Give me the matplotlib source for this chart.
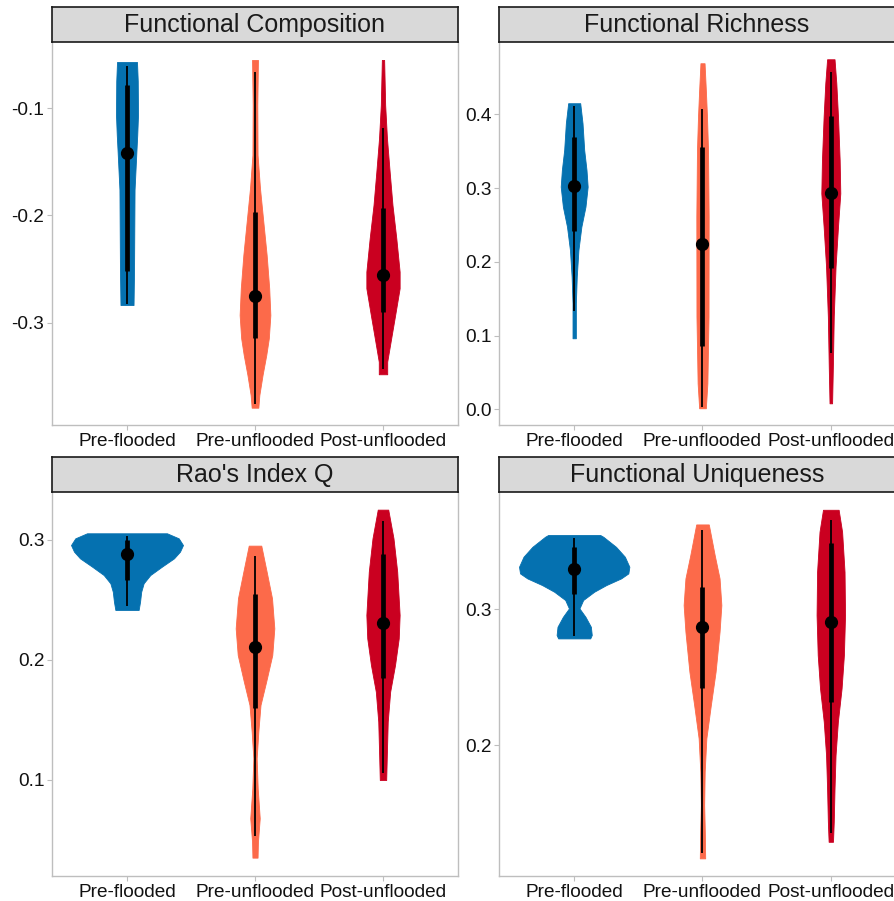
import matplotlib
matplotlib.use("Agg")
import matplotlib.pyplot as plt
import numpy as np

plt.rcParams['font.family'] = ['Liberation Sans', 'DejaVu Sans']

groups = ['Pre-flooded', 'Pre-unflooded', 'Post-unflooded']
colors = ['#0571B0', '#FC6A4A', '#CA0020']

# violin outlines: (value, half width in category units)
fc_pre_flooded = [(-0.0572, 0.078), (-0.075, 0.084), (-0.1065, 0.086), (-0.125, 0.080),
                  (-0.139, 0.074), (-0.176, 0.059), (-0.251, 0.055), (-0.2833, 0.051)]
fc_pre_unflooded = [(-0.0553, 0.023), (-0.0972, 0.018), (-0.1437, 0.020), (-0.1747, 0.039),
                    (-0.2058, 0.065), (-0.2367, 0.091), (-0.2677, 0.111), (-0.2926, 0.120),
                    (-0.3142, 0.108), (-0.3298, 0.088), (-0.3484, 0.059), (-0.367, 0.034),
                    (-0.3788, 0.026)]
fc_post_unflooded = [(-0.0553, 0.009), (-0.0972, 0.017), (-0.1282, 0.031), (-0.1593, 0.052),
                     (-0.1902, 0.074), (-0.2212, 0.104), (-0.2523, 0.130), (-0.2677, 0.130),
                     (-0.2926, 0.095), (-0.3142, 0.064), (-0.336, 0.033), (-0.3477, 0.033)]

fr_pre_flooded = [(0.415, 0.047), (0.3878, 0.065), (0.3516, 0.078), (0.3245, 0.096),
                  (0.3018, 0.105), (0.2747, 0.088), (0.2476, 0.056), (0.216, 0.033),
                  (0.1798, 0.020), (0.1437, 0.013), (0.0963, 0.013)]
fr_pre_unflooded = [(0.4692, 0.016), (0.433, 0.026), (0.3968, 0.035), (0.3516, 0.043),
                    (0.2612, 0.048), (0.1256, 0.047), (0.0353, 0.038), (0.0014, 0.026)]
fr_post_unflooded = [(0.4746, 0.029), (0.442, 0.043), (0.3968, 0.056), (0.338, 0.069),
                     (0.2929, 0.074), (0.2476, 0.056), (0.1934, 0.037), (0.1256, 0.023),
                     (0.0578, 0.016), (0.0081, 0.010)]

rao_pre_flooded = [(0.3056, 0.3125), (0.3014, 0.404), (0.2958, 0.4375), (0.2903, 0.414),
                   (0.2847, 0.367), (0.2778, 0.273), (0.2708, 0.182), (0.2639, 0.130),
                   (0.2569, 0.111), (0.2486, 0.102), (0.2417, 0.091)]
rao_pre_unflooded = [(0.2953, 0.049), (0.2736, 0.091), (0.2514, 0.133), (0.2264, 0.151),
                     (0.2042, 0.135), (0.1819, 0.087), (0.1625, 0.043), (0.1403, 0.026),
                     (0.1181, 0.013), (0.0931, 0.021), (0.0681, 0.037), (0.0486, 0.023),
                     (0.0353, 0.020)]
rao_post_unflooded = [(0.3253, 0.041), (0.3014, 0.082), (0.2736, 0.111), (0.2375, 0.130),
                      (0.2181, 0.123), (0.1958, 0.094), (0.1736, 0.056), (0.1486, 0.037),
                      (0.1208, 0.030), (0.1, 0.025)]

fu_pre_flooded = [(0.3548, 0.203), (0.3535, 0.227), (0.3461, 0.326), (0.3388, 0.395),
                  (0.3314, 0.430), (0.3265, 0.422), (0.3228, 0.365), (0.3179, 0.250),
                  (0.313, 0.156), (0.3069, 0.070), (0.3007, 0.041), (0.2945, 0.088),
                  (0.2872, 0.130), (0.2811, 0.137), (0.2786, 0.125)]
fu_pre_unflooded = [(0.3626, 0.049), (0.34, 0.095), (0.3228, 0.133), (0.3032, 0.147),
                    (0.2835, 0.133), (0.254, 0.102), (0.2295, 0.065), (0.2049, 0.030),
                    (0.1803, 0.017), (0.1558, 0.013), (0.1361, 0.018), (0.1165, 0.021)]
fu_post_unflooded = [(0.3734, 0.061), (0.3572, 0.088), (0.3277, 0.107), (0.2958, 0.111),
                     (0.2663, 0.102), (0.2418, 0.084), (0.2172, 0.055), (0.1926, 0.037),
                     (0.1681, 0.029), (0.1435, 0.023), (0.1287, 0.017)]

# point + intervals (median, thick interval, thin interval)
fc_median = [-0.142, -0.275, -0.255]
fc_thick = [(-0.0786, -0.2516), (-0.1967, -0.314), (-0.193, -0.29)]
fc_thin = [(-0.061, -0.2823), (-0.0665, -0.3753), (-0.1186, -0.3428)]

fr_median = [0.3028, 0.2241, 0.2937]
fr_thick = [(0.3697, 0.2422), (0.356, 0.0861), (0.3977, 0.1912)]
fr_thin = [(0.4113, 0.1339), (0.4076, 0.0035), (0.4578, 0.0770)]

rao_median = [0.2881, 0.2111, 0.2311]
rao_thick = [(0.3, 0.2667), (0.2547, 0.1603), (0.2881, 0.1853)]
rao_thin = [(0.3033, 0.245), (0.2867, 0.0533), (0.3161, 0.1056)]

fu_median = [0.3295, 0.2872, 0.2909]
fu_thick = [(0.3457, 0.3113), (0.3167, 0.2418), (0.3486, 0.2315)]
fu_thin = [(0.3523, 0.2803), (0.3584, 0.1202), (0.3658, 0.1354)]

panels = [
    ('Functional Composition', [fc_pre_flooded, fc_pre_unflooded, fc_post_unflooded],
     fc_median, fc_thick, fc_thin, (-0.3949, -0.0386), [-0.3, -0.2, -0.1]),
    ('Functional Richness', [fr_pre_flooded, fr_pre_unflooded, fr_post_unflooded],
     fr_median, fr_thick, fr_thin, (-0.0213, 0.498), [0.0, 0.1, 0.2, 0.3, 0.4]),
    ("Rao's Index Q", [rao_pre_flooded, rao_pre_unflooded, rao_post_unflooded],
     rao_median, rao_thick, rao_thin, (0.02, 0.34), [0.1, 0.2, 0.3]),
    ('Functional Uniqueness', [fu_pre_flooded, fu_pre_unflooded, fu_post_unflooded],
     fu_median, fu_thick, fu_thin, (0.1035, 0.3865), [0.2, 0.3]),
]

W, H = 895, 901
fig = plt.figure(figsize=(W / 100, H / 100), dpi=100)

# pixel boxes (left, top, right, bottom) of each plotting area
boxes = [(52, 42, 458, 425), (499, 42, 906, 425),
         (52, 492, 458, 876), (499, 492, 906, 876)]
strip_h = 35
axis_grey = '#BEBEBE'

for (title, violins, med, thick, thin, ylim, yticks), (l, t, r, b) in zip(panels, boxes):
    ax = fig.add_axes([l / W, 1 - b / H, (r - l) / W, (b - t) / H])
    for i, prof in enumerate(violins):
        x = i + 1
        ys = np.array([p[0] for p in prof])
        ws = np.array([p[1] for p in prof])
        ax.fill_betweenx(ys, x - ws, x + ws, color=colors[i], lw=0.6, edgecolor=colors[i])
        ax.plot([x, x], thin[i], color='black', lw=1.3, solid_capstyle='butt')
        ax.plot([x, x], thick[i], color='black', lw=3.4, solid_capstyle='butt')
        ax.plot(x, med[i], 'o', color='black', ms=8.5)
    ax.set_xlim(0.414, 3.586)
    ax.set_ylim(*ylim)
    ax.set_xticks([1, 2, 3])
    ax.set_xticklabels(groups)
    ax.set_yticks(yticks)
    ax.set_yticklabels([f'{v:.1f}' for v in yticks])
    ax.tick_params(labelsize=13.7, color=axis_grey, length=3.5, width=0.8,
                   labelcolor='#111111', pad=2)
    for side in ['left', 'bottom', 'right']:
        ax.spines[side].set_color(axis_grey)
        ax.spines[side].set_linewidth(1.0)
    ax.spines['top'].set_visible(False)

    sax = fig.add_axes([l / W, 1 - t / H, (r - l) / W, strip_h / H])
    sax.set_facecolor('#D9D9D9')
    sax.set_xticks([])
    sax.set_yticks([])
    for s in sax.spines.values():
        s.set_color('#1a1a1a')
        s.set_linewidth(1.2)
    # centre the title on the visible part of the strip
    vis_r = min(r, W)
    cx = ((l + vis_r) / 2 - l) / (r - l)
    sax.text(cx, 0.48, title, ha='center', va='center', fontsize=18,
             color='#1a1a1a', transform=sax.transAxes)

fig.savefig('out.png', dpi=100)
